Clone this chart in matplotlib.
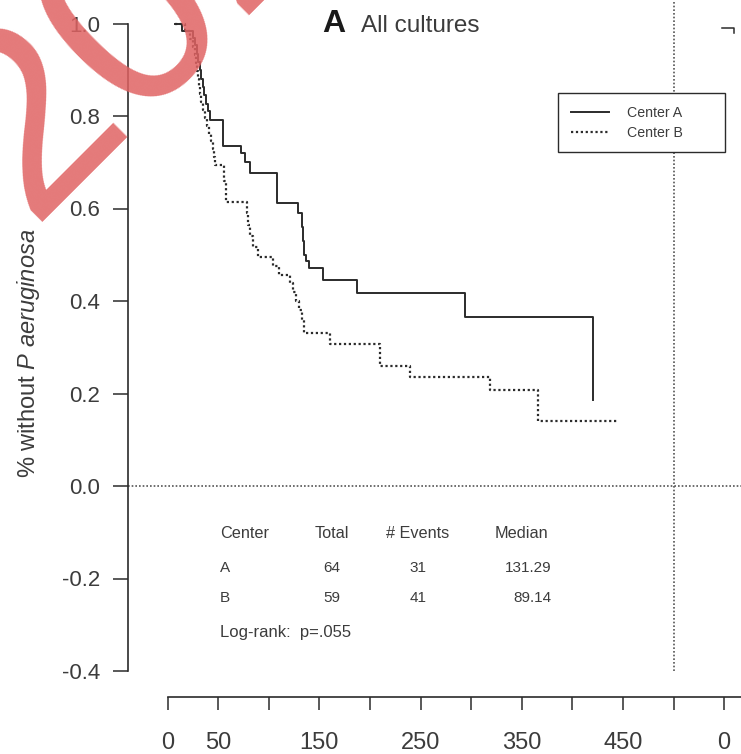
import matplotlib.pyplot as plt
from matplotlib.lines import Line2D

plt.rcParams['font.family'] = ['Liberation Sans', 'DejaVu Sans']
plt.rcParams['mathtext.fontset'] = 'custom'
plt.rcParams['mathtext.rm'] = 'Liberation Sans'
plt.rcParams['mathtext.it'] = 'Liberation Sans:italic'

W, H = 741, 754

# Kaplan-Meier steps (days, fraction still without P aeruginosa)
center_a_t = [7, 14, 25, 27, 29, 30, 32, 33, 35, 36, 38, 40, 42, 55, 73, 77, 82,
              108, 129, 133, 134, 135, 137, 140, 154, 187, 294, 420]
center_a_s = [1.0, 0.984, 0.969, 0.953, 0.935, 0.917, 0.90, 0.88, 0.862, 0.845, 0.827,
              0.81, 0.791, 0.735, 0.72, 0.70, 0.677, 0.612, 0.59, 0.56, 0.53, 0.50,
              0.487, 0.471, 0.445, 0.417, 0.365, 0.186]

center_b_t = [7, 17, 22, 25, 27, 28, 29, 30, 31, 32, 33, 35, 37, 39, 41, 43, 45, 46, 47,
              56, 58, 79, 80, 82, 84, 89, 104, 110, 121, 124, 127, 130, 133, 135, 161,
              210, 240, 319, 366, 445]
center_b_s = [1.0, 0.983, 0.966, 0.949, 0.932, 0.915, 0.898, 0.881, 0.864, 0.847, 0.83,
              0.813, 0.796, 0.779, 0.762, 0.745, 0.728, 0.711, 0.694, 0.66, 0.614, 0.59,
              0.565, 0.54, 0.517, 0.495, 0.475, 0.456, 0.44, 0.42, 0.40, 0.38, 0.36,
              0.331, 0.307, 0.259, 0.236, 0.208, 0.141, 0.141]

series_labels = ['Center A', 'Center B']

y_ticks = [1.0, 0.8, 0.6, 0.4, 0.2, 0.0, -0.2, -0.4]
y_ticklabels = ['1.0', '0.8', '0.6', '0.4', '0.2', '0.0', '-0.2', '-0.4']
x_ticks = [0, 50, 100, 150, 200, 250, 300, 350, 400, 450, 500, 550]
x_ticklabels = ['0', '50', '', '150', '', '250', '', '350', '', '450', '', '0']

table_header = ['Center', 'Total', '# Events', 'Median']
table_center = ['A', 'B']
table_total = ['64', '59']
table_events = ['31', '41']
table_median = ['131.29', '89.14']
logrank_text = 'Log-rank:  p=.055'


# pixel calibration of the scanned panel
def tx(px):
    return (px - 167.5) / 1.012


def vy(py):
    return (486 - py) / 462.5


def fpos(px, py):
    return px / W, 1 - py / H


ink = '#2b2b2b'
txt = '#3c3c3c'

fig = plt.figure(figsize=(W / 100, H / 100), dpi=100)
ax = fig.add_axes([0, (H - 697) / H, 1, 697 / H])
ax.set_xlim(tx(0), tx(W))
ax.set_ylim(vy(697), vy(0))

la, = ax.step(center_a_t, center_a_s, where='post', color=ink, lw=1.4)
lb, = ax.step(center_b_t, center_b_s, where='post', color=ink, lw=1.6,
              linestyle=(0, (1, 1.2)))

# reference lines
ax.hlines(0, tx(128), tx(W), color='#555555', lw=1.2, linestyle=(0, (1, 1.2)))
ax.vlines(500, -0.4, vy(0), color='#555555', lw=1.2, linestyle=(0, (1, 1.2)))

for s in ['top', 'right']:
    ax.spines[s].set_visible(False)
ax.spines['left'].set_position(('data', tx(128)))
ax.spines['left'].set_bounds(-0.4, 1.0)
ax.spines['bottom'].set_bounds(0, tx(W))
for s in ['left', 'bottom']:
    ax.spines[s].set_color(ink)
    ax.spines[s].set_linewidth(1.2)

ax.set_yticks(y_ticks)
ax.set_yticklabels(y_ticklabels)
ax.set_xticks(x_ticks)
ax.set_xticklabels(x_ticklabels)
ax.tick_params(axis='y', length=11, width=1.1, pad=9, labelsize=16,
               colors=ink, labelcolor=txt)
ax.tick_params(axis='x', length=9.5, width=1.1, pad=16, labelsize=17,
               colors=ink, labelcolor=txt)

leg = ax.legend([la, lb], series_labels, loc='upper left', mode='expand',
                bbox_to_anchor=(558 / W, 1 - 150 / 697, (725 - 558) / W, 57 / 697),
                fontsize=10.2, frameon=True, fancybox=False, framealpha=1,
                edgecolor=ink, handlelength=2.7, handletextpad=1.3,
                labelspacing=0.42, borderpad=0.9, borderaxespad=0)
leg.get_frame().set_linewidth(1.0)
for t in leg.get_texts():
    t.set_color(txt)
leg.set_zorder(5)

# panel title
fig.text(*fpos(334, 32), 'A', fontsize=23, fontweight='bold', color='#1a1a1a',
         ha='center', va='baseline')
fig.text(*fpos(361, 32), 'All cultures', fontsize=17.5, color=txt,
         ha='left', va='baseline')

fig.text(*fpos(28, 353), '% without $\\it{P\\ aeruginosa}$', fontsize=17,
         color=txt, rotation=90, ha='center', va='center')

# summary table
col_x = [220, 332, 418, 551]
col_ha = ['left', 'center', 'center', 'right']
for j, h in enumerate(table_header):
    x = col_x[j] if j < 3 else 495
    fig.text(*fpos(x, 534), h, fontsize=11.7, color=txt,
             ha=col_ha[j] if j < 3 else 'left', va='center')
for i in range(2):
    y = 568 + i * 30
    row = [table_center[i], table_total[i], table_events[i], table_median[i]]
    for j, v in enumerate(row):
        fig.text(*fpos(col_x[j], y), v, fontsize=11, color=txt,
                 ha=col_ha[j], va='center')
fig.text(*fpos(220, 633), logrank_text, fontsize=12, color=txt,
         ha='left', va='center')

# corner of the neighbouring panel
fig.add_artist(Line2D([722 / W, 734 / W, 734 / W],
                      [1 - 28 / H, 1 - 28 / H, 1 - 33 / H],
                      color=ink, lw=1.1, transform=fig.transFigure))

# red watermark stamp
fig.text(*fpos(30, 222), '2020', fontsize=190, color='#e06262', alpha=0.85,
         rotation=45, rotation_mode='anchor', ha='left', va='baseline', zorder=10)

fig.savefig('out.png', dpi=100, facecolor='white')
